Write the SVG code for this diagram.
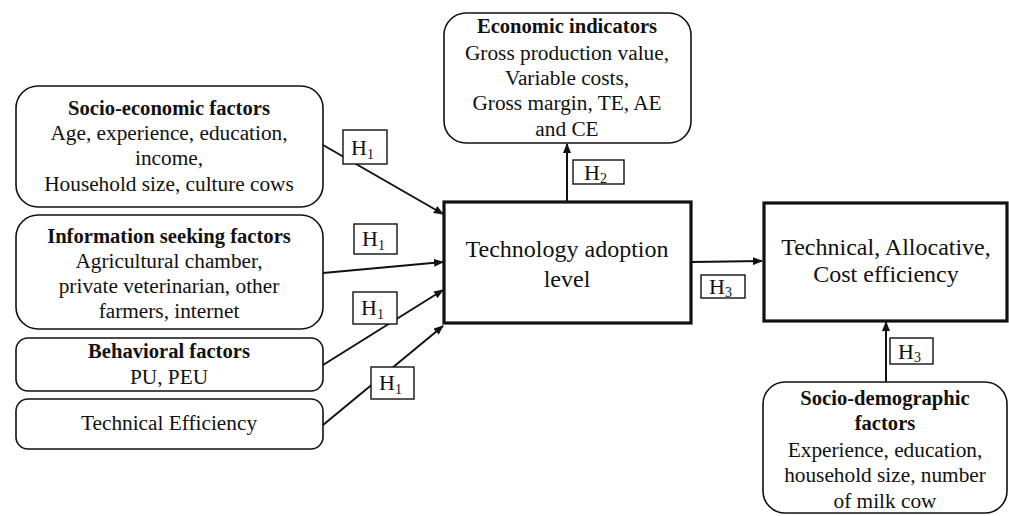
<svg xmlns="http://www.w3.org/2000/svg" width="1009" height="516" viewBox="0 0 1009 516">
<style>
text{font-family:"Liberation Serif","Times New Roman",serif;font-size:21.3px;fill:#111;text-anchor:middle}
.b{font-weight:bold;font-size:20.6px}
.big{font-size:24px}
.rb{fill:#fff;stroke:#111;stroke-width:1.6}
.tb{fill:#fff;stroke:#111;stroke-width:3.2}
.hb{fill:#fff;stroke:#111;stroke-width:1.4}
.c{stroke:#111;stroke-width:2;fill:none;marker-end:url(#ah)}
.h{font-size:22px;text-anchor:start}
.s{font-size:14px}
</style>
<defs>
<marker id="ah" markerWidth="10" markerHeight="8" refX="9" refY="4" orient="auto" markerUnits="userSpaceOnUse">
<path d="M0,0 L10,4 L0,8 Z" fill="#111"/>
</marker>
</defs>
<g id="socio-economic">
<rect class="rb" x="16" y="86" width="307" height="121" rx="22"/>
<text class="b" x="169" y="115">Socio-economic factors</text>
<text x="169" y="140">Age, experience, education,</text>
<text x="169" y="165">income,</text>
<text x="169" y="191">Household size, culture cows</text>
</g>
<g id="information-seeking">
<rect class="rb" x="16" y="215" width="307" height="114" rx="22"/>
<text class="b" x="169" y="243">Information seeking factors</text>
<text x="169" y="268">Agricultural chamber,</text>
<text x="169" y="293">private veterinarian, other</text>
<text x="169" y="318">farmers, internet</text>
</g>
<g id="behavioral">
<rect class="rb" x="16" y="338" width="307" height="53" rx="12"/>
<text class="b" x="169" y="358">Behavioral factors</text>
<text x="169" y="384">PU, PEU</text>
</g>
<g id="technical-efficiency">
<rect class="rb" x="16" y="399" width="307" height="50" rx="12"/>
<text x="169" y="430">Technical Efficiency</text>
</g>
<g id="economic-indicators">
<rect class="rb" x="444" y="13" width="247" height="130" rx="22"/>
<text class="b" x="567" y="33">Economic indicators</text>
<text x="567" y="60">Gross production value,</text>
<text x="567" y="85">Variable costs,</text>
<text x="567" y="110">Gross margin, TE, AE</text>
<text x="567" y="136">and CE</text>
</g>
<g id="technology-adoption">
<rect class="tb" x="444" y="202" width="247" height="121"/>
<text class="big" x="567" y="257">Technology adoption</text>
<text class="big" x="567" y="287">level</text>
</g>
<g id="efficiency">
<rect class="tb" x="764" y="203" width="243" height="118"/>
<text class="big" x="886" y="255">Technical, Allocative,</text>
<text class="big" x="886" y="282">Cost efficiency</text>
</g>
<g id="socio-demographic">
<rect class="rb" x="763" y="382" width="244" height="131" rx="22"/>
<text class="b" x="885" y="405">Socio-demographic</text>
<text class="b" x="885" y="430">factors</text>
<text x="885" y="457">Experience, education,</text>
<text x="885" y="482">household size, number</text>
<text x="885" y="508">of milk cow</text>
</g>
<g id="connectors">
<line class="c" x1="323" y1="145" x2="443" y2="214"/>
<line class="c" x1="323" y1="273" x2="443" y2="262"/>
<line class="c" x1="323" y1="365" x2="443" y2="290"/>
<line class="c" x1="323" y1="425" x2="443" y2="326"/>
<line class="c" x1="567" y1="201" x2="567" y2="144"/>
<line class="c" x1="692" y1="262" x2="762" y2="261"/>
<line class="c" x1="886" y1="382" x2="886" y2="322"/>
</g>
<g id="labels">
<g id="h1a"><rect class="hb" x="343" y="130" width="44" height="34"/><text class="h" x="351" y="155">H<tspan class="s" dy="4">1</tspan></text></g>
<g id="h1b"><rect class="hb" x="354" y="224" width="43" height="30"/><text class="h" x="362" y="246">H<tspan class="s" dy="4">1</tspan></text></g>
<g id="h1c"><rect class="hb" x="353" y="292" width="44" height="32"/><text class="h" x="361" y="315">H<tspan class="s" dy="4">1</tspan></text></g>
<g id="h1d"><rect class="hb" x="371" y="367" width="43" height="32"/><text class="h" x="379" y="390">H<tspan class="s" dy="4">1</tspan></text></g>
<g id="h2"><rect class="hb" x="573" y="160" width="51" height="24"/><text class="h" x="584" y="180">H<tspan class="s" dy="3">2</tspan></text></g>
<g id="h3a"><rect class="hb" x="701" y="275" width="44" height="23"/><text class="h" x="709" y="294">H<tspan class="s" dy="3">3</tspan></text></g>
<g id="h3b"><rect class="hb" x="890" y="338" width="43" height="26"/><text class="h" x="898" y="359">H<tspan class="s" dy="3">3</tspan></text></g>
</g>
</svg>
